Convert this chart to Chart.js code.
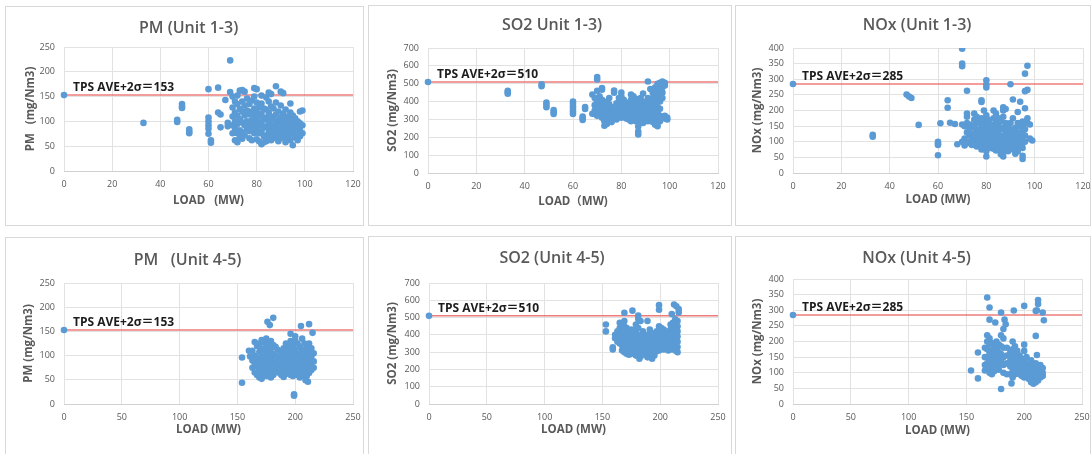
<!DOCTYPE html>
<html>
<head>
<meta charset="utf-8">
<script src="https://cdn.jsdelivr.net/npm/chart.js@4/dist/chart.umd.min.js"></script>
<style>
  html, body { margin: 0; padding: 0; background: #ffffff; }
  body { width: 1091px; height: 454px; position: relative; overflow: hidden; }
  .panel { position: absolute; box-sizing: border-box; border: 1px solid #d9d9d9; background: #ffffff; }
  .panel canvas { position: absolute; left: 0; top: 0; }
</style>
</head>
<body>
<script>
// Emission limits (TPS average + 2 sigma), mg/Nm3
const pmLimit = 153;
const so2Limit = 510;
const noxLimit = 285;

// Readings grouped by load: [load (MW), [concentrations mg/Nm3 ...]]
const pmUnit13 = [
  [33,[97]],[47,[103,99]],[49,[135,130,127]],[52,[84,79,76]],
  [60,[165,108,100,92,85,75]],[61,[62,57]],[64,[168,118]],[65,[114,88]],[67,[143]],[68,[97,90]],
  [69,[223,159]],
  [70,[150,128,110,92,76]],
  [71,[140,118,100,86,62]],
  [72,[152,135,112,95,76,58]],
  [73,[162,125,104,82,68]],
  [74,[163,140,120,98,78,65]],
  [75,[160,132,112,92,72]],
  [76,[146,122,100,84]],
  [77,[135,114,95,80,66]],
  [78,[142,120,102,84,62]],
  [79,[167,150,126,110,92,76]],
  [80,[165,138,118,100,84,64]],
  [81,[128,110,92,76,60]],
  [82,[152,136,116,98,80,54]],
  [83,[126,104,88,70,58]],
  [84,[148,124,108,90,72,60]],
  [85,[158,140,118,100,82,66]],
  [86,[155,130,110,92,76,62]],
  [87,[126,104,86,70]],
  [88,[171,138,114,96,80,66]],
  [89,[120,102,88,72,60]],
  [90,[160,132,108,94,80,66]],
  [91,[157,116,100,86,74]],
  [92,[124,106,92,80,68,58]],
  [93,[110,96,84,72]],
  [94,[136,118,102,88,76,62]],
  [95,[112,98,86,74,52]],
  [96,[106,92,80,68]],
  [97,[100,88,76,62]],
  [98,[120,96,82,70]],
  [99,[122,92,76]]
];

const so2Unit13 = [
  [33,[460,452,444]],[47,[497,486]],[49,[395,382,368]],[52,[352,340,330]],
  [60,[400,388,372,358,344,330]],[64,[316,306,297]],[65,[370,358]],[68,[440,332]],
  [69,[420,380,350,330]],
  [70,[537,524,460,400,370,345,320]],
  [71,[430,390,355,330]],
  [72,[476,466,410,372,340,310]],
  [73,[380,350,320,290,265]],
  [74,[400,365,335,300,275]],
  [75,[420,385,350,320,290]],
  [76,[370,340,310,285]],
  [77,[462,450]],
  [78,[390,360,330,300]],
  [79,[420,380,350,320]],
  [80,[450,430,400,370,340,310]],
  [81,[410,380,350,320]],
  [82,[395,365,335,305]],
  [83,[380,350,325,300]],
  [84,[440,410,375,345,310,290]],
  [85,[430,395,360,330,300]],
  [86,[415,380,350,320,290]],
  [87,[400,365,335,300,260,232,216]],
  [88,[420,385,350,320,290]],
  [89,[445,400,370,340,310,280]],
  [90,[390,360,330,300]],
  [91,[512,420,380,350,320,290]],
  [92,[470,410,370,340,305]],
  [93,[450,420,385,350,320,285]],
  [94,[480,440,400,360,330,300,270]],
  [95,[500,470,440,410,370,340,310,280,262]],
  [96,[505,490,460,430,400,360,320,290]],
  [97,[512,500,480,450,420]],
  [98,[505,490,320,305]],
  [99,[310,300]]
];

const noxUnit13 = [
  [33,[122,116]],[47,[251]],[48,[245]],[49,[240]],[52,[154]],
  [60,[100,94,90,57]],[61,[159]],[64,[233,209]],[65,[161]],[67,[157]],[68,[92]],
  [70,[398,350,342,155,100]],
  [71,[150,110,88]],
  [72,[263,190,180,160,130,95]],
  [73,[155,140,120,100]],
  [74,[150,125,108,90]],
  [75,[190,170,145,120,95]],
  [76,[180,160,135,110,85]],
  [77,[165,140,118,98]],
  [78,[233,227,175,155,130,112,92,75]],
  [79,[200,170,145,125,105]],
  [80,[297,283,274,185,160,140,120,100,85,70,53]],
  [81,[170,145,125,108,92]],
  [82,[155,132,115,98,80]],
  [83,[200,175,150,120,100,78]],
  [84,[190,160,135,112,90,72]],
  [85,[175,150,128,108,88]],
  [86,[165,140,118,95,75,60]],
  [87,[210,200,180,145,120,100,80,65,53]],
  [88,[205,160,135,112,90]],
  [89,[150,128,105,85,70]],
  [90,[284,160,140,120,95,80]],
  [91,[235,175,130,110,90,75]],
  [92,[145,122,100,85,62]],
  [93,[195,160,130,110,90,70]],
  [94,[228,150,125,105,85]],
  [95,[165,150,135,115,95,80,55,45]],
  [96,[318,262,207,160,140,120,100]],
  [97,[343,266,175,160]],
  [98,[155,110]],
  [99,[104]]
];

const pmUnit45 = [
  [154,[96,44]],[160,[110]],[161,[98]],
  [163,[110,90,75]],
  [165,[128,100,84,65]],
  [167,[120,95,78,60]],
  [169,[125,108,90,72,55]],
  [171,[132,115,98,82,66,52]],
  [173,[128,110,94,78,62]],
  [175,[135,118,100,85,70,58]],
  [176,[170]],
  [177,[125,108,92,76,62]],
  [178,[163]],
  [179,[130,115,98,82,68,55]],
  [181,[178,122,104,88,72,60]],
  [183,[118,100,84,70]],
  [185,[112,95,80,65]],
  [188,[105,90,75,60]],
  [190,[115,98,82,68,56]],
  [192,[125,108,92,76,62]],
  [194,[118,100,84,70]],
  [196,[145,130,110,92,78,60]],
  [198,[120,102,86,72,58]],
  [199,[20,17]],
  [200,[140,132,112,95,80,66]],
  [202,[125,105,88,74,60]],
  [204,[118,100,84,70,55]],
  [205,[161]],
  [206,[135,112,96,80,64]],
  [208,[125,108,90,76,60]],
  [209,[49]],
  [210,[118,100,86,72,58]],
  [211,[46]],
  [212,[165,125,108,92,78,64]],
  [214,[115,98,84,70]],
  [215,[147]],
  [216,[105,88,75]]
];

const so2Unit45 = [
  [153,[460,420]],[159,[328,316]],
  [161,[400,380]],
  [163,[420,390,360]],
  [165,[470,440,410,380,350]],
  [167,[460,430,400,370,340,310]],
  [169,[528,480,450,420,390,360,330,300]],
  [171,[440,410,380,350,320,290]],
  [173,[400,370,340,310,285]],
  [175,[430,400,370,340,310,290]],
  [176,[540]],
  [177,[410,380,350,320,295]],
  [179,[460,430,390,360,330,300,280]],
  [181,[512,492,440,400,370,340,310,290]],
  [182,[262]],
  [183,[480,380,350,320,295,275]],
  [185,[420,390,360,330,300]],
  [187,[400,370,340,310,285]],
  [189,[480,380,350,320,290,270]],
  [191,[430,400,370,340,310,285]],
  [193,[410,380,350,320,290,262]],
  [195,[390,360,330,305,280]],
  [197,[420,390,360,330,305]],
  [199,[572,545,450,420,390,360,330,310]],
  [201,[440,410,380,350,320]],
  [203,[430,400,370,340,315]],
  [205,[400,370,345,320]],
  [207,[420,390,360,335,310]],
  [209,[460,430,400,370,340,315]],
  [210,[520]],
  [211,[470,440,410,380,350,320]],
  [212,[575]],
  [213,[490,460,430,400,370,340,310]],
  [214,[565]],
  [215,[480,450,420,390,360,330,300]],
  [216,[550,530]]
];

const noxUnit45 = [
  [154,[107]],[160,[165,82]],[166,[180,150,125,107]],
  [168,[341,220,200,175,150,130,110]],
  [170,[309,270,210,190,165,145,120,100]],
  [172,[195,170,150,130,115,95]],
  [174,[185,160,140,120,105]],
  [175,[261]],
  [176,[200,175,155,135,115]],
  [178,[190,165,140,125,110]],
  [180,[293,220,185,160,140,48]],
  [182,[240,210,180,150,125,100]],
  [183,[270]],
  [184,[255]],
  [185,[180,155,130,95]],
  [188,[165,140,120,95]],
  [189,[66]],
  [190,[200,175,150,125,105,85]],
  [191,[299]],
  [192,[185,160,135,110,95]],
  [194,[170,145,120,100]],
  [196,[155,130,110,95]],
  [198,[145,125,105,90]],
  [200,[314,190,170,135,115,100,85]],
  [202,[150,120,100,90]],
  [204,[130,110,95,80]],
  [206,[140,115,100,85,70]],
  [208,[125,105,90,75,65]],
  [210,[298,218,130,110,95,80,70]],
  [211,[300,157]],
  [212,[333,320,120,100,88,75]],
  [214,[125,110,95,85]],
  [216,[293,115,100,90]],
  [217,[268]]
];

// Chart texts
const chartTitles = ['PM (Unit 1-3)', 'SO2 Unit 1-3)', 'NOx (Unit 1-3)', 'PM   (Unit 4-5)', 'SO2 (Unit 4-5)', 'NOx (Unit 4-5)'];
const yTitles = ['PM   (mg/Nm3)', 'SO2 (mg/Nm3)', 'NOx (mg/Nm3)', 'PM (mg/Nm3)', 'SO2 (mg/Nm3)', 'NOx (mg/Nm3)'];
const xTitles = ['LOAD   (MW)', 'LOAD（MW)', 'LOAD (MW)', 'LOAD (MW)', 'LOAD (MW)', 'LOAD (MW)'];

// Page layout: panel box [l,t,r,b], plot area [l,t,r,b], text centres (page px)
const panelLayout = [
  { box: [5, 6, 364, 226],     plot: [64, 47, 353, 171],   titleY: 28,  xTitleY: 201, yTitleX: 31 },
  { box: [368, 5, 732, 226],   plot: [428, 48, 718, 173],  titleY: 25,  xTitleY: 202, yTitleX: 393 },
  { box: [735, 5, 1091, 226],  plot: [793, 48, 1083, 173], titleY: 25,  xTitleY: 200, yTitleX: 758 },
  { box: [5, 237, 364, 455],   plot: [64, 283, 353, 404],  titleY: 260, xTitleY: 430, yTitleX: 29 },
  { box: [368, 236, 732, 455], plot: [429, 283, 718, 404], titleY: 258, xTitleY: 430, yTitleX: 393 },
  { box: [735, 236, 1091, 455],plot: [793, 279, 1082, 404],titleY: 258, xTitleY: 431, yTitleX: 758 }
];

const FONT = '"Open Sans", "Noto Sans CJK JP", sans-serif';
const TEXT_GREY = '#595959';
const POINT_BLUE = '#5b9bd5';
const LIMIT_RED = 'rgba(236, 100, 100, 0.85)';
const GRID_GREY = '#e2e2e2';

Chart.defaults.font.family = FONT;

function flatten(groups) {
  const pts = [];
  groups.forEach(([load, values]) => values.forEach(v => pts.push({ x: load, y: v })));
  return pts;
}

// Writes the "TPS AVE+2σ＝limit" caption just above the limit line
const limitCaption = {
  id: 'limitCaption',
  afterDatasetsDraw(chart, args, opts) {
    const y = chart.scales.y.getPixelForValue(opts.value);
    const ctx = chart.ctx;
    ctx.save();
    ctx.font = 'bold 12px ' + FONT;
    ctx.fillStyle = '#1c1c1c';
    ctx.textAlign = 'left';
    ctx.textBaseline = 'alphabetic';
    ctx.fillText('TPS AVE+2σ＝' + opts.value, chart.chartArea.left + 9, y - 4);
    ctx.restore();
  }
};

const series = [
  { data: pmUnit13,  limit: pmLimit,  xMax: 120, xStep: 20, yMax: 250, yStep: 50 },
  { data: so2Unit13, limit: so2Limit, xMax: 120, xStep: 20, yMax: 700, yStep: 100 },
  { data: noxUnit13, limit: noxLimit, xMax: 120, xStep: 20, yMax: 400, yStep: 50 },
  { data: pmUnit45,  limit: pmLimit,  xMax: 250, xStep: 50, yMax: 250, yStep: 50 },
  { data: so2Unit45, limit: so2Limit, xMax: 250, xStep: 50, yMax: 700, yStep: 100 },
  { data: noxUnit45, limit: noxLimit, xMax: 250, xStep: 50, yMax: 400, yStep: 50 }
];

series.forEach((s, i) => {
  const L = panelLayout[i];
  const [bl, bt, br, bb] = L.box;
  const panel = document.createElement('div');
  panel.className = 'panel';
  panel.style.left = bl + 'px';
  panel.style.top = bt + 'px';
  panel.style.width = (br - bl) + 'px';
  panel.style.height = (bb - bt) + 'px';
  document.body.appendChild(panel);

  const ox = bl + 1, oy = bt + 1;
  const cw = br - bl - 2, ch = bb - bt - 2;
  const canvas = document.createElement('canvas');
  canvas.width = cw;
  canvas.height = ch;
  canvas.style.width = cw + 'px';
  canvas.style.height = ch + 'px';
  panel.appendChild(canvas);

  const pl = L.plot[0] - ox, pt = L.plot[1] - oy, pr = L.plot[2] - ox, pb = L.plot[3] - oy;
  const titleSize = 16, titleLH = titleSize * 1.2;
  const axisTitleSize = 11.5, axisLH = axisTitleSize * 1.2;
  const padLeft = L.yTitleX - ox - axisLH / 2;
  const yWidth = pl - padLeft;
  const xHeight = (L.xTitleY - oy) - pb + axisLH / 2;
  const padBottom = Math.max(ch - pb - xHeight, 0);
  const padRight = cw - pr;
  const titleTop = (L.titleY - oy) - titleLH / 2;
  const titleBottom = pt - titleTop - titleLH;

  new Chart(canvas, {
    type: 'scatter',
    data: {
      datasets: [
        {
          data: flatten(s.data),
          backgroundColor: POINT_BLUE,
          borderColor: POINT_BLUE,
          borderWidth: 0,
          pointRadius: 3.3,
          order: 0
        },
        {
          // limit line, with its marker at zero load
          data: [{ x: 0, y: s.limit }, { x: s.xMax, y: s.limit }],
          showLine: true,
          clip: false,
          borderColor: LIMIT_RED,
          borderWidth: 1.5,
          pointRadius: [3.3, 0],
          pointBackgroundColor: POINT_BLUE,
          pointBorderWidth: 0,
          order: 1
        }
      ]
    },
    options: {
      responsive: false,
      animation: false,
      events: [],
      layout: { padding: { left: padLeft, right: padRight, top: 0, bottom: padBottom } },
      plugins: {
        legend: { display: false },
        tooltip: { enabled: false },
        title: {
          display: true,
          text: chartTitles[i],
          color: TEXT_GREY,
          font: { family: FONT, size: titleSize, weight: '600', lineHeight: 1.2 },
          padding: { top: titleTop, bottom: titleBottom }
        },
        limitCaption: { value: s.limit }
      },
      scales: {
        x: {
          type: 'linear',
          min: 0,
          max: s.xMax,
          grid: { color: GRID_GREY, lineWidth: 1, drawTicks: false },
          border: { color: '#d0d0d0', width: 1 },
          ticks: { stepSize: s.xStep, color: TEXT_GREY, font: { size: 9 }, padding: 8, maxRotation: 0 },
          title: {
            display: true,
            text: xTitles[i],
            color: TEXT_GREY,
            font: { size: axisTitleSize, weight: 'bold', lineHeight: 1.2 },
            padding: 0
          },
          afterFit(scale) {
            scale.height = xHeight;
            scale.paddingLeft = 0;
            scale.paddingRight = 0;
          }
        },
        y: {
          type: 'linear',
          min: 0,
          max: s.yMax,
          grid: { color: GRID_GREY, lineWidth: 1, drawTicks: false },
          border: { display: false },
          ticks: { stepSize: s.yStep, color: TEXT_GREY, font: { size: 9 }, padding: 9 },
          title: {
            display: true,
            text: yTitles[i],
            color: TEXT_GREY,
            font: { size: axisTitleSize, weight: 'bold', lineHeight: 1.2 },
            padding: 0
          },
          afterFit(scale) {
            scale.width = yWidth;
            scale.paddingTop = 0;
            scale.paddingBottom = 0;
          }
        }
      }
    },
    plugins: [limitCaption]
  });
});
</script>
</body>
</html>
